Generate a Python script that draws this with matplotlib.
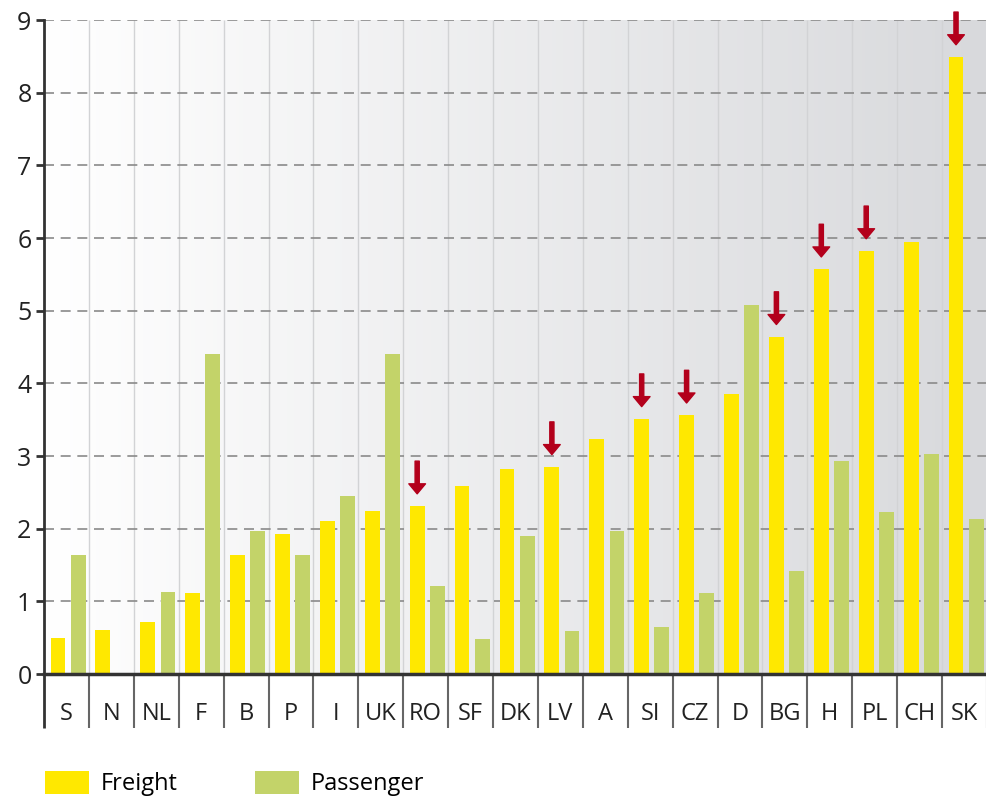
import numpy as np
import matplotlib
matplotlib.use('Agg')
import matplotlib.pyplot as plt
from matplotlib.patches import Patch
from matplotlib.colors import LinearSegmentedColormap

plt.rcParams['font.family'] = ['Open Sans', 'DejaVu Sans']

# データ
countries = ['S', 'N', 'NL', 'F', 'B', 'P', 'I', 'UK', 'RO', 'SF', 'DK',
             'LV', 'A', 'SI', 'CZ', 'D', 'BG', 'H', 'PL', 'CH', 'SK']
freight = [0.49, 0.60, 0.72, 1.11, 1.64, 1.93, 2.10, 2.24, 2.31, 2.59, 2.82,
           2.85, 3.23, 3.51, 3.56, 3.85, 4.64, 5.57, 5.82, 5.94, 8.49]
passenger = [1.64, 0.0, 1.13, 4.40, 1.97, 1.64, 2.45, 4.40, 1.21, 0.48, 1.90,
             0.59, 1.97, 0.65, 1.11, 5.08, 1.42, 2.93, 2.23, 3.03, 2.14]
arrow_marked = ['RO', 'LV', 'SI', 'CZ', 'BG', 'H', 'PL', 'SK']

yellow = '#ffe800'
green = '#c3d369'
arrow_red = '#b3001b'
dark = '#333333'

fig = plt.figure(figsize=(9.87, 7.99), dpi=100)
ax = fig.add_axes([0.0446, 0.1564, 0.9554, 0.8185])

n = len(countries)
x = np.arange(n) + 0.5

# 背景グラデーション
cmap = LinearSegmentedColormap.from_list('bg', ['#ffffff', '#d8d9dc'])
ax.imshow(np.linspace(0, 1, 256).reshape(1, -1), cmap=cmap, aspect='auto',
          extent=[0, n, 0, 9], zorder=0)

# 縦の区切り線
ax.vlines(np.arange(1, n), 0, 9, color='#d2d3d5', lw=1.0, zorder=1)
# 横の破線
for yv in range(1, 10):
    ax.axhline(yv, color='#8a8a8a', lw=1.2, ls=(0, (6, 4)), zorder=1)

w = 0.33
ax.bar(x - 0.19, freight, width=w, color=yellow, zorder=2)
ax.bar(x + 0.26, passenger, width=w, color=green, zorder=2)

# 矢印
for i, c in enumerate(countries):
    if c in arrow_marked:
        ax.annotate('', xy=(x[i] - 0.19, freight[i] + 0.17),
                    xytext=(x[i] - 0.19, freight[i] + 0.62),
                    arrowprops=dict(arrowstyle='simple,head_length=0.6,head_width=1.0,tail_width=0.25',
                                    color=arrow_red, mutation_scale=12, shrinkA=0, shrinkB=0),
                    annotation_clip=False, zorder=3)

ax.set_xlim(0, n)
ax.set_ylim(0, 9)
ax.set_yticks(range(0, 10))
ax.set_xticks(x)
ax.set_xticklabels(countries)

for s in ['top', 'right']:
    ax.spines[s].set_visible(False)
ax.spines['left'].set_color(dark)
ax.spines['left'].set_linewidth(2)
ax.spines['bottom'].set_color(dark)
ax.spines['bottom'].set_linewidth(2.5)
ax.spines['bottom'].set_zorder(4)

ax.tick_params(axis='y', length=6, width=2, color=dark, labelsize=18,
               labelcolor='#222222', pad=3)
ax.tick_params(axis='x', length=0, labelsize=17, labelcolor='#222222', pad=20)

# ラベル欄の区切り
trans = ax.get_xaxis_transform()
ax.vlines(np.arange(1, n + 1), -0.083, 0, color='#666666', lw=1.5,
          transform=trans, clip_on=False)
ax.vlines([0], -0.083, 0, color=dark, lw=2, transform=trans, clip_on=False)

handles = [Patch(facecolor=yellow, label='Freight'),
           Patch(facecolor=green, label='Passenger')]
fig.legend(handles=handles, loc='center left', bbox_to_anchor=(0.0456, 0.019),
           ncol=2, frameon=False, fontsize=17, handlelength=1.85,
           handleheight=1.1, columnspacing=3.3, handletextpad=0.5,
           borderpad=0, borderaxespad=0)

fig.savefig('out.png', dpi=100)
